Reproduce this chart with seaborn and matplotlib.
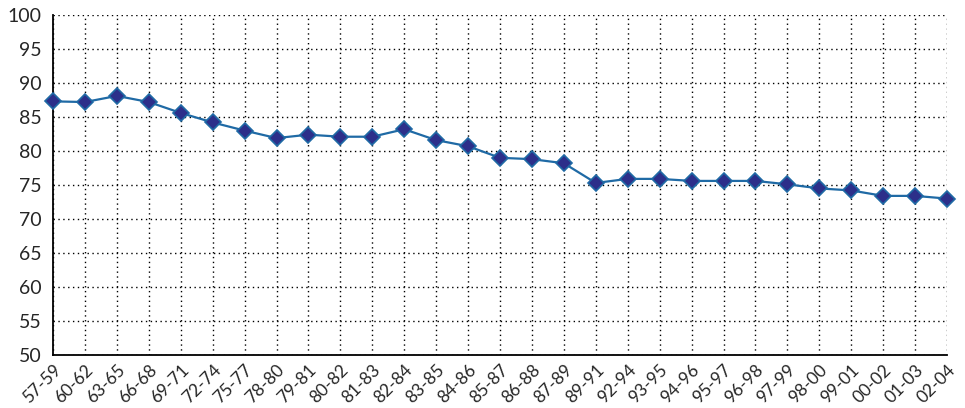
import numpy as np
import pandas as pd
import seaborn as sns
import matplotlib.pyplot as plt

periods = ["57-59", "60-62", "63-65", "66-68", "69-71", "72-74", "75-77", "78-80",
           "79-81", "80-82", "81-83", "82-84", "83-85", "84-86", "85-87", "86-88",
           "87-89", "89-91", "92-94", "93-95", "94-96", "95-97", "96-98", "97-99",
           "98-00", "99-01", "00-02", "01-03", "02-04"]
values = [87.3, 87.2, 88.1, 87.2, 85.6, 84.2, 83.0, 81.9,
          82.4, 82.1, 82.1, 83.2, 81.6, 80.7, 79.0, 78.8,
          78.2, 75.3, 75.9, 75.9, 75.6, 75.6, 75.6, 75.1,
          74.5, 74.2, 73.4, 73.4, 73.0]
y_ticks = [50, 55, 60, 65, 70, 75, 80, 85, 90, 95, 100]

sns.set_style("white")
plt.rcParams['font.family'] = ['Lato', 'DejaVu Sans']

df = pd.DataFrame({"period": periods, "value": values})

fig = plt.figure(figsize=(9.65, 4.08), dpi=100)
ax = fig.add_axes([53 / 965, 1 - 355 / 408, (947 - 53) / 965, (355 - 15) / 408])

sns.lineplot(data=df, x="period", y="value", ax=ax, sort=False,
             color="#1f6aa5", linewidth=1.6, marker="D", markersize=8,
             markerfacecolor="#2c2f8a", markeredgecolor="#1f6aa5", markeredgewidth=1.2,
             zorder=3, clip_on=False)

ax.set_xlim(0, len(periods) - 1)
ax.set_ylim(50, 100)
ax.set_yticks(y_ticks)
ax.set_xticks(range(len(periods)))
ax.set_xticklabels(periods, rotation=45, ha="right", rotation_mode="anchor", fontsize=12.5)
ax.tick_params(axis="y", labelsize=14, length=4, width=0.8, color="black", pad=4)
ax.tick_params(axis="x", length=0, pad=5)
ax.set_xlabel("")
ax.set_ylabel("")

ax.grid(True, color="black", linestyle=(0, (1, 2.5)), linewidth=1.0)
for side in ["top", "right"]:
    ax.spines[side].set_visible(False)
for side in ["left", "bottom"]:
    ax.spines[side].set_color("black")
    ax.spines[side].set_linewidth(1.3)
ax.set_axisbelow(True)

fig.savefig("out.png", dpi=100)
